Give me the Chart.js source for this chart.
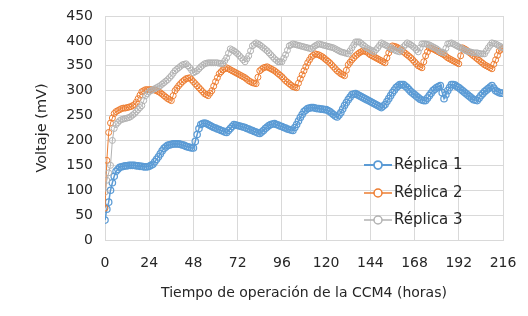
<!DOCTYPE html>
<html>
<head>
<meta charset="utf-8">
<script src="https://cdn.jsdelivr.net/npm/chart.js@4.4.1/dist/chart.umd.min.js"></script>
<style>
  html, body { margin: 0; padding: 0; background: #fff; }
  #wrap { width: 528px; height: 316px; position: relative; }
</style>
</head>
<body>
<div id="wrap"><canvas id="voltajeChart"></canvas></div>
<script>
// tiempo de operación (horas), una lectura por hora
const tiempo = [
  0, 1, 2, 3, 4, 5, 6, 7, 8, 9, 10, 11, 12, 13, 14, 15, 16, 17, 18, 19, 20, 21, 22, 23,
  24, 25, 26, 27, 28, 29, 30, 31, 32, 33, 34, 35, 36, 37, 38, 39, 40, 41, 42, 43, 44, 45, 46, 47,
  48, 49, 50, 51, 52, 53, 54, 55, 56, 57, 58, 59, 60, 61, 62, 63, 64, 65, 66, 67, 68, 69, 70, 71,
  72, 73, 74, 75, 76, 77, 78, 79, 80, 81, 82, 83, 84, 85, 86, 87, 88, 89, 90, 91, 92, 93, 94, 95,
  96, 97, 98, 99, 100, 101, 102, 103, 104, 105, 106, 107, 108, 109, 110, 111, 112, 113, 114, 115, 116, 117, 118, 119,
  120, 121, 122, 123, 124, 125, 126, 127, 128, 129, 130, 131, 132, 133, 134, 135, 136, 137, 138, 139, 140, 141, 142, 143,
  144, 145, 146, 147, 148, 149, 150, 151, 152, 153, 154, 155, 156, 157, 158, 159, 160, 161, 162, 163, 164, 165, 166, 167,
  168, 169, 170, 171, 172, 173, 174, 175, 176, 177, 178, 179, 180, 181, 182, 183, 184, 185, 186, 187, 188, 189, 190, 191,
  192, 193, 194, 195, 196, 197, 198, 199, 200, 201, 202, 203, 204, 205, 206, 207, 208, 209, 210, 211, 212, 213, 214, 215, 216];

const replica1 = [
  40, 62, 76, 100, 115, 128, 138, 142, 146, 147, 148, 149, 149, 150, 150, 150, 150, 149, 149, 148, 148, 147, 147, 147,
  148, 150, 152, 157, 162, 167, 173, 179, 184, 187, 190, 191, 192, 193, 193, 193, 193, 192, 191, 190, 188, 187, 186, 185,
  185, 198, 212, 224, 232, 234, 235, 234, 232, 230, 228, 226, 225, 223, 222, 220, 219, 217, 216, 220, 224, 228, 232, 231,
  230, 229, 228, 227, 226, 224, 223, 221, 220, 218, 217, 215, 214, 217, 220, 224, 227, 230, 232, 233, 234, 232, 231, 229,
  228, 226, 225, 223, 222, 221, 220, 226, 232, 239, 246, 252, 258, 261, 264, 265, 266, 266, 265, 264, 264, 263, 263, 262,
  262, 260, 258, 255, 252, 249, 247, 251, 256, 263, 270, 276, 282, 287, 292, 293, 294, 292, 290, 288, 286, 284, 282, 280,
  278, 276, 274, 272, 270, 268, 266, 269, 272, 278, 284, 290, 296, 301, 306, 309, 312, 312, 312, 309, 306, 302, 298, 295,
  292, 289, 286, 283, 281, 280, 280, 285, 290, 295, 300, 303, 306, 308, 310, 296, 284, 292, 300, 306, 312, 312, 311, 308,
  306, 303, 300, 297, 294, 291, 288, 285, 282, 281, 280, 285, 290, 294, 298, 301, 304, 307, 310, 305, 300, 298, 296, 295, 295];

const replica2 = [
  64, 160, 216, 235, 245, 254, 258, 260, 262, 264, 265, 265, 266, 267, 268, 270, 272, 277, 284, 291, 298, 300, 302, 302,
  302, 302, 302, 301, 300, 298, 296, 293, 290, 287, 284, 282, 280, 290, 300, 305, 310, 314, 318, 321, 324, 325, 326, 322,
  318, 314, 310, 306, 302, 298, 294, 292, 290, 295, 300, 309, 318, 326, 334, 338, 342, 344, 346, 344, 342, 340, 338, 336,
  334, 332, 330, 328, 326, 323, 320, 318, 316, 315, 314, 327, 340, 343, 346, 347, 348, 346, 344, 342, 340, 337, 334, 331,
  328, 324, 320, 317, 314, 311, 308, 307, 306, 315, 324, 332, 340, 348, 356, 362, 368, 371, 374, 373, 372, 370, 368, 365,
  362, 359, 356, 352, 348, 344, 340, 337, 334, 332, 330, 341, 352, 357, 362, 366, 370, 373, 376, 378, 380, 379, 378, 375,
  372, 370, 368, 366, 364, 362, 360, 358, 356, 366, 376, 383, 390, 389, 388, 386, 384, 381, 378, 375, 372, 369, 366, 362,
  358, 354, 350, 348, 346, 358, 370, 378, 386, 385, 384, 382, 380, 378, 376, 374, 372, 369, 366, 364, 362, 360, 358, 356,
  354, 370, 386, 384, 382, 379, 376, 373, 370, 367, 364, 361, 358, 355, 352, 350, 348, 346, 344, 353, 362, 371, 380, 383, 385];

const replica3 = [
  96, 120, 135, 150, 200, 224, 232, 236, 240, 242, 243, 244, 245, 246, 248, 251, 254, 258, 262, 266, 270, 280, 290, 294,
  298, 300, 302, 304, 306, 308, 310, 313, 316, 319, 322, 326, 330, 335, 340, 343, 346, 349, 352, 353, 354, 350, 346, 341,
  336, 338, 340, 344, 348, 351, 354, 355, 356, 356, 356, 356, 356, 356, 355, 355, 354, 360, 366, 375, 384, 382, 380, 377,
  374, 370, 366, 362, 358, 364, 370, 380, 390, 393, 396, 394, 392, 389, 386, 383, 380, 376, 372, 368, 364, 361, 358, 358,
  358, 365, 372, 381, 390, 392, 394, 393, 392, 391, 390, 389, 388, 387, 386, 385, 384, 387, 390, 392, 394, 393, 392, 391,
  390, 389, 388, 387, 386, 384, 382, 380, 378, 377, 376, 375, 374, 380, 386, 392, 398, 398, 398, 395, 392, 389, 386, 384,
  382, 380, 378, 382, 386, 391, 396, 394, 392, 390, 388, 386, 384, 382, 380, 379, 378, 383, 388, 392, 396, 394, 392, 389,
  386, 382, 378, 386, 394, 394, 394, 393, 392, 390, 388, 386, 384, 381, 378, 377, 376, 385, 394, 395, 396, 394, 392, 390,
  388, 386, 384, 382, 380, 379, 378, 377, 376, 376, 376, 375, 374, 374, 374, 380, 386, 391, 396, 395, 394, 392, 390, 388, 386];

const series = ["Réplica 1", "Réplica 2", "Réplica 3"];
const xTicks = [0, 24, 48, 72, 96, 120, 144, 168, 192, 216];
const yTicks = [0, 50, 100, 150, 200, 250, 300, 350, 400, 450];

const FONT = "'DejaVu Sans', Verdana, sans-serif";
const TEXT = "#262626";

function toPoints(values) {
    return tiempo.map((t, i) => ({ x: t, y: values[i] }));
}

// legend drawn inside the plot, lower right
const insideLegend = {
    id: "insideLegend",
    afterDraw(chart) {
        const ctx = chart.ctx;
        const x0 = 364, rows = [165, 193, 220];
        ctx.save();
        chart.data.datasets.forEach((ds, i) => {
            const y = rows[i];
            ctx.strokeStyle = ds.borderColor;
            ctx.lineWidth = ds.borderWidth + 0.5;
            ctx.beginPath();
            ctx.moveTo(x0, y);
            ctx.lineTo(x0 + 28, y);
            ctx.stroke();
            ctx.fillStyle = "#fff";
            ctx.lineWidth = ds.pointBorderWidth + 0.5;
            ctx.beginPath();
            ctx.arc(x0 + 14, y, 4, 0, Math.PI * 2);
            ctx.fill();
            ctx.stroke();
            ctx.fillStyle = TEXT;
            ctx.font = "15px " + FONT;
            ctx.textBaseline = "middle";
            ctx.fillText(ds.label, x0 + 30, y);
        });
        ctx.restore();
    }
};

const ctx = document.getElementById("voltajeChart").getContext("2d");

window.voltajeChart = new Chart(ctx, {
    type: "line",
    data: {
        datasets: [
            {
                label: series[0],
                data: toPoints(replica1),
                borderColor: "#5B9BD5",
                backgroundColor: "rgba(255,255,255,0)",
                borderWidth: 1.5,
                pointRadius: 3.2,
                pointBorderWidth: 1.25,
                pointBackgroundColor: "rgba(255,255,255,0)",
                order: 2
            },
            {
                label: series[1],
                data: toPoints(replica2),
                borderColor: "#ED7D31",
                backgroundColor: "rgba(255,255,255,0)",
                borderWidth: 1,
                pointRadius: 3,
                pointBorderWidth: 1,
                pointBackgroundColor: "rgba(255,255,255,0)",
                order: 1
            },
            {
                label: series[2],
                data: toPoints(replica3),
                borderColor: "#B2B2B2",
                backgroundColor: "rgba(255,255,255,0)",
                borderWidth: 1,
                pointRadius: 3,
                pointBorderWidth: 1,
                pointBackgroundColor: "rgba(255,255,255,0)",
                order: 0
            }
        ]
    },
    options: {
        responsive: true,
        maintainAspectRatio: false,
        animation: false,
        layout: { padding: { left: 0, right: 25, top: 16, bottom: 0 } },
        plugins: {
            legend: { display: false },
            tooltip: { enabled: false }
        },
        scales: {
            x: {
                type: "linear",
                min: 0,
                max: 216,
                afterBuildTicks: (scale) => { scale.ticks = xTicks.map(v => ({ value: v })); },
                afterFit: (scale) => {
                    scale.height = 76;
                    scale.paddingLeft = 0;
                    scale.paddingRight = 0;
                },
                ticks: { color: TEXT, font: { family: FONT, size: 14 }, padding: 15, maxRotation: 0 },
                grid: { color: "#D9D9D9", drawTicks: false },
                border: { color: "#D9D9D9" },
                title: {
                    display: true,
                    text: "Tiempo de operación de la CCM4 (horas)",
                    color: TEXT,
                    font: { family: FONT, size: 14 },
                    padding: { top: 4, bottom: 14 }
                }
            },
            y: {
                min: 0,
                max: 450,
                afterBuildTicks: (scale) => { scale.ticks = yTicks.map(v => ({ value: v })); },
                afterFit: (scale) => {
                    scale.width = 105;
                    scale.paddingTop = 0;
                    scale.paddingBottom = 0;
                },
                ticks: { color: TEXT, font: { family: FONT, size: 14 }, padding: 12 },
                grid: { color: "#D9D9D9", drawTicks: false },
                border: { color: "#D9D9D9" },
                title: {
                    display: true,
                    text: "Voltaje (mV)",
                    color: TEXT,
                    font: { family: FONT, size: 14.5 },
                    padding: { top: 34, bottom: 0 }
                }
            }
        }
    },
    plugins: [insideLegend]
});
</script>
</body>
</html>
